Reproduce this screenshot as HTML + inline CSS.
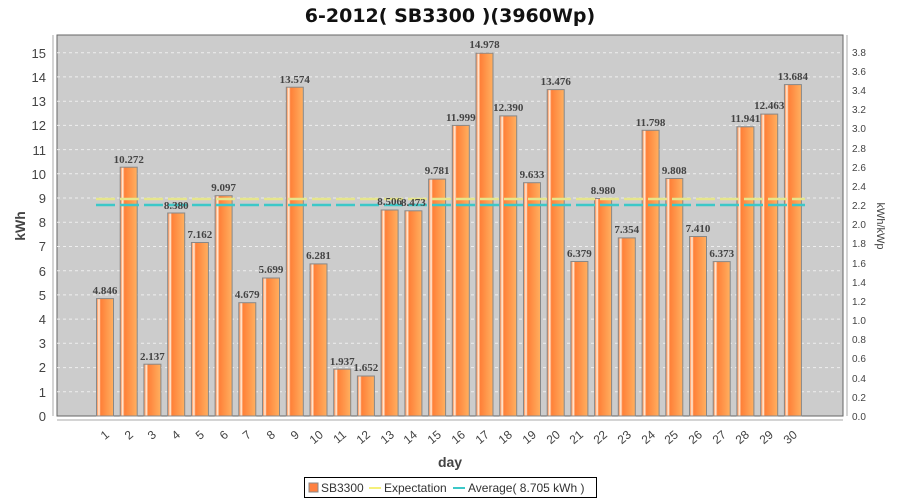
<!DOCTYPE html>
<html><head><meta charset="utf-8"><style>body{margin:0;background:#fff}svg{display:block}</style></head><body>
<svg width="900" height="500" xmlns="http://www.w3.org/2000/svg" font-family="Liberation Sans, sans-serif">
<defs>
<linearGradient id="g" x1="0" x2="1" y1="0" y2="0">
<stop offset="0" stop-color="#ff7a30"/><stop offset="0.15" stop-color="#fff0e0"/><stop offset="0.25" stop-color="#ff8038"/><stop offset="1" stop-color="#ffb060"/>
</linearGradient>
</defs>
<text x="450" y="22" text-anchor="middle" font-size="19" font-weight="bold" fill="#111" font-family="DejaVu Sans, sans-serif">6-2012( SB3300 )(3960Wp)</text>
<rect x="57" y="35" width="786" height="381" fill="#cccccc" stroke="#666" stroke-width="1"/>
<g stroke="#eee" stroke-dasharray="3,3" stroke-width="1">
<line x1="57" x2="843" y1="391.8" y2="391.8"/><line x1="57" x2="843" y1="367.6" y2="367.6"/><line x1="57" x2="843" y1="343.3" y2="343.3"/><line x1="57" x2="843" y1="319.1" y2="319.1"/><line x1="57" x2="843" y1="294.9" y2="294.9"/><line x1="57" x2="843" y1="270.7" y2="270.7"/><line x1="57" x2="843" y1="246.5" y2="246.5"/><line x1="57" x2="843" y1="222.2" y2="222.2"/><line x1="57" x2="843" y1="198.0" y2="198.0"/><line x1="57" x2="843" y1="173.8" y2="173.8"/><line x1="57" x2="843" y1="149.6" y2="149.6"/><line x1="57" x2="843" y1="125.4" y2="125.4"/><line x1="57" x2="843" y1="101.2" y2="101.2"/><line x1="57" x2="843" y1="76.9" y2="76.9"/><line x1="57" x2="843" y1="52.7" y2="52.7"/>
</g>
<g font-size="13" fill="#444" text-anchor="end">
<text x="46" y="421">0</text><text x="46" y="397">1</text><text x="46" y="372">2</text><text x="46" y="348">3</text><text x="46" y="324">4</text><text x="46" y="300">5</text><text x="46" y="276">6</text><text x="46" y="251">7</text><text x="46" y="227">8</text><text x="46" y="203">9</text><text x="46" y="179">10</text><text x="46" y="155">11</text><text x="46" y="130">12</text><text x="46" y="106">13</text><text x="46" y="82">14</text><text x="46" y="58">15</text>
</g>
<line x1="53" y1="35" x2="53" y2="416" stroke="#aaa"/>
<line x1="847" y1="35" x2="847" y2="416" stroke="#aaa"/>
<line x1="57" y1="420" x2="843" y2="420" stroke="#aaa"/>
<g font-size="10" fill="#444">
<text x="852" y="420">0.0</text><text x="852" y="401">0.2</text><text x="852" y="382">0.4</text><text x="852" y="362">0.6</text><text x="852" y="343">0.8</text><text x="852" y="324">1.0</text><text x="852" y="305">1.2</text><text x="852" y="286">1.4</text><text x="852" y="267">1.6</text><text x="852" y="247">1.8</text><text x="852" y="228">2.0</text><text x="852" y="209">2.2</text><text x="852" y="190">2.4</text><text x="852" y="171">2.6</text><text x="852" y="152">2.8</text><text x="852" y="132">3.0</text><text x="852" y="113">3.2</text><text x="852" y="94">3.4</text><text x="852" y="75">3.6</text><text x="852" y="56">3.8</text>
</g>
<text transform="translate(25,226) rotate(-90)" text-anchor="middle" font-size="14" font-weight="bold" fill="#444">kWh</text>
<text transform="translate(877,226) rotate(90)" text-anchor="middle" font-size="11" fill="#444">kWh/kWp</text>
<text x="450" y="467" text-anchor="middle" font-size="14" font-weight="bold" fill="#444">day</text>
<g fill="url(#g)" stroke="#888" stroke-width="1">
<rect x="96.5" y="298.6" width="17" height="117.4"/><rect x="120.2" y="167.2" width="17" height="248.8"/><rect x="143.9" y="364.2" width="17" height="51.8"/><rect x="167.7" y="213.0" width="17" height="203.0"/><rect x="191.4" y="242.5" width="17" height="173.5"/><rect x="215.1" y="195.7" width="17" height="220.3"/><rect x="238.8" y="302.7" width="17" height="113.3"/><rect x="262.5" y="278.0" width="17" height="138.0"/><rect x="286.3" y="87.2" width="17" height="328.8"/><rect x="310.0" y="263.9" width="17" height="152.1"/><rect x="333.7" y="369.1" width="17" height="46.9"/><rect x="357.4" y="376.0" width="17" height="40.0"/><rect x="381.1" y="210.0" width="17" height="206.0"/><rect x="404.9" y="210.8" width="17" height="205.2"/><rect x="428.6" y="179.1" width="17" height="236.9"/><rect x="452.3" y="125.4" width="17" height="290.6"/><rect x="476.0" y="53.2" width="17" height="362.8"/><rect x="499.7" y="115.9" width="17" height="300.1"/><rect x="523.5" y="182.7" width="17" height="233.3"/><rect x="547.2" y="89.6" width="17" height="326.4"/><rect x="570.9" y="261.5" width="17" height="154.5"/><rect x="594.6" y="198.5" width="17" height="217.5"/><rect x="618.3" y="237.9" width="17" height="178.1"/><rect x="642.1" y="130.3" width="17" height="285.7"/><rect x="665.8" y="178.5" width="17" height="237.5"/><rect x="689.5" y="236.5" width="17" height="179.5"/><rect x="713.2" y="261.6" width="17" height="154.4"/><rect x="736.9" y="126.8" width="17" height="289.2"/><rect x="760.7" y="114.1" width="17" height="301.9"/><rect x="784.4" y="84.6" width="17" height="331.4"/>
</g>
<line x1="96" x2="805" y1="199" y2="199" stroke="#e6e68c" stroke-width="2.5" stroke-dasharray="19,5"/>
<line x1="96" x2="805" y1="205" y2="205" stroke="#3cc8c8" stroke-width="2.5" stroke-dasharray="19,5"/>
<g font-family="Liberation Serif, serif" font-size="11" font-weight="bold" fill="#444" text-anchor="middle">
<text x="105" y="294">4.846</text><text x="128.7" y="163">10.272</text><text x="152.4" y="360">2.137</text><text x="176.2" y="209">8.380</text><text x="199.9" y="238">7.162</text><text x="223.6" y="191">9.097</text><text x="247.3" y="298">4.679</text><text x="271" y="273">5.699</text><text x="294.8" y="83">13.574</text><text x="318.5" y="259">6.281</text><text x="342.2" y="365">1.937</text><text x="365.9" y="371">1.652</text><text x="389.6" y="205">8.506</text><text x="413.4" y="206">8.473</text><text x="437.1" y="174">9.781</text><text x="460.8" y="121">11.999</text><text x="484.5" y="48">14.978</text><text x="508.2" y="111">12.390</text><text x="532" y="178">9.633</text><text x="555.7" y="85">13.476</text><text x="579.4" y="257">6.379</text><text x="603.1" y="194">8.980</text><text x="626.8" y="233">7.354</text><text x="650.6" y="126">11.798</text><text x="674.3" y="174">9.808</text><text x="698" y="232">7.410</text><text x="721.7" y="257">6.373</text><text x="745.4" y="122">11.941</text><text x="769.2" y="109">12.463</text><text x="792.9" y="80">13.684</text>
</g>
<g font-size="12" fill="#444" text-anchor="end">
<text transform="translate(110,436) rotate(-40)">1</text><text transform="translate(134,436) rotate(-40)">2</text><text transform="translate(157,436) rotate(-40)">3</text><text transform="translate(181,436) rotate(-40)">4</text><text transform="translate(205,436) rotate(-40)">5</text><text transform="translate(229,436) rotate(-40)">6</text><text transform="translate(252,436) rotate(-40)">7</text><text transform="translate(276,436) rotate(-40)">8</text><text transform="translate(300,436) rotate(-40)">9</text><text transform="translate(324,436) rotate(-40)">10</text><text transform="translate(347,436) rotate(-40)">11</text><text transform="translate(371,436) rotate(-40)">12</text><text transform="translate(395,436) rotate(-40)">13</text><text transform="translate(418,436) rotate(-40)">14</text><text transform="translate(442,436) rotate(-40)">15</text><text transform="translate(466,436) rotate(-40)">16</text><text transform="translate(490,436) rotate(-40)">17</text><text transform="translate(513,436) rotate(-40)">18</text><text transform="translate(537,436) rotate(-40)">19</text><text transform="translate(561,436) rotate(-40)">20</text><text transform="translate(584,436) rotate(-40)">21</text><text transform="translate(608,436) rotate(-40)">22</text><text transform="translate(632,436) rotate(-40)">23</text><text transform="translate(656,436) rotate(-40)">24</text><text transform="translate(679,436) rotate(-40)">25</text><text transform="translate(703,436) rotate(-40)">26</text><text transform="translate(727,436) rotate(-40)">27</text><text transform="translate(750,436) rotate(-40)">28</text><text transform="translate(774,436) rotate(-40)">29</text><text transform="translate(798,436) rotate(-40)">30</text>
</g>
<rect x="304.5" y="477.5" width="292" height="20" fill="#fff" stroke="#000"/>
<rect x="309" y="483" width="9" height="9" fill="#ff8040" stroke="#888"/>
<text x="321" y="492" font-size="12" fill="#333">SB3300</text>
<line x1="369" x2="381" y1="488" y2="488" stroke="#f5f07a" stroke-width="2"/>
<text x="384" y="492" font-size="12" fill="#333">Expectation</text>
<line x1="453" x2="465" y1="488" y2="488" stroke="#3cc8c8" stroke-width="2"/>
<text x="468" y="492" font-size="12" fill="#333">Average( 8.705 kWh )</text>
</svg>
</body></html>
